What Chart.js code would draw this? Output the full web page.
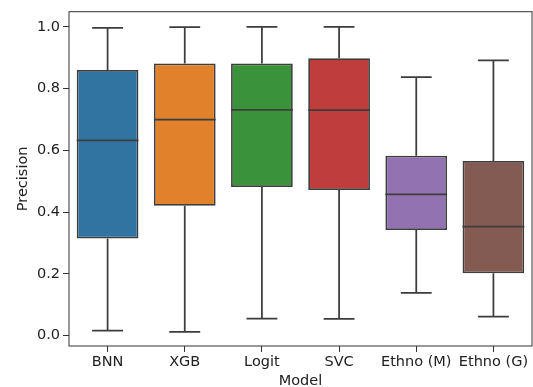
<!DOCTYPE html>
<html>
<head>
<meta charset="utf-8">
<script src="https://cdn.jsdelivr.net/npm/chart.js@4.4.1/dist/chart.umd.min.js"></script>
<style>
  html, body { margin: 0; padding: 0; background: #fff; }
  canvas { display: block; }
</style>
</head>
<body>
<canvas id="chart" width="533" height="387"></canvas>
<script>
// box plot stats
const models = ["BNN", "XGB", "Logit", "SVC", "Ethno (M)", "Ethno (G)"];
const whiskerLow = [0.016, 0.012, 0.055, 0.054, 0.138, 0.061];
const q1 = [0.314, 0.420, 0.481, 0.471, 0.342, 0.202];
const median = [0.632, 0.699, 0.731, 0.730, 0.457, 0.353];
const q3 = [0.860, 0.881, 0.881, 0.898, 0.582, 0.565];
const whiskerHigh = [0.997, 0.999, 1.000, 1.000, 0.837, 0.891];
const boxColors = ["#3274a1", "#e1812c", "#3a923a", "#c03d3e", "#9372b2", "#845b53"];
const yTicks = [0.0, 0.2, 0.4, 0.6, 0.8, 1.0];

const lineColor = "#3d3d3d";
const lineW = 1.75;
const textColor = "#222";
const fontFamily = "'DejaVu Sans', sans-serif";

// whiskers + caps under the boxes, medians on top
const boxPlotLines = {
    id: "boxPlotLines",
    beforeDatasetsDraw(chart) {
        const ctx = chart.ctx;
        const y = chart.scales.y;
        const bars = chart.getDatasetMeta(0).data;
        ctx.save();
        ctx.strokeStyle = lineColor;
        ctx.lineWidth = lineW;
        bars.forEach((bar, i) => {
            const half = bar.width / 4;
            const lo = y.getPixelForValue(whiskerLow[i]);
            const hi = y.getPixelForValue(whiskerHigh[i]);
            ctx.beginPath();
            ctx.moveTo(bar.x, lo);
            ctx.lineTo(bar.x, y.getPixelForValue(q1[i]));
            ctx.moveTo(bar.x, hi);
            ctx.lineTo(bar.x, y.getPixelForValue(q3[i]));
            ctx.moveTo(bar.x - half, lo);
            ctx.lineTo(bar.x + half, lo);
            ctx.moveTo(bar.x - half, hi);
            ctx.lineTo(bar.x + half, hi);
            ctx.stroke();
        });
        ctx.restore();
    },
    afterDatasetsDraw(chart) {
        const ctx = chart.ctx;
        const y = chart.scales.y;
        const bars = chart.getDatasetMeta(0).data;
        ctx.save();
        ctx.strokeStyle = lineColor;
        ctx.lineWidth = lineW;
        bars.forEach((bar, i) => {
            const m = y.getPixelForValue(median[i]);
            ctx.beginPath();
            ctx.moveTo(bar.x - bar.width / 2, m);
            ctx.lineTo(bar.x + bar.width / 2, m);
            ctx.stroke();
        });
        // axes frame
        const a = chart.chartArea;
        ctx.strokeStyle = "#333";
        ctx.lineWidth = 1;
        ctx.strokeRect(a.left, a.top, a.right - a.left, a.bottom - a.top);
        ctx.restore();
    }
};

new Chart(document.getElementById("chart"), {
    type: "bar",
    data: {
        labels: models,
        datasets: [{
            data: models.map((_, i) => [q1[i], q3[i]]),
            backgroundColor: boxColors,
            borderColor: lineColor,
            borderWidth: lineW,
            borderSkipped: false,
            categoryPercentage: 1.0,
            barPercentage: 0.8
        }]
    },
    options: {
        responsive: false,
        animation: false,
        layout: { padding: { left: 0, top: 10, right: 1, bottom: 0 } },
        plugins: {
            legend: { display: false },
            tooltip: { enabled: false }
        },
        scales: {
            x: {
                offset: true,
                grid: { display: true, drawOnChartArea: false, offset: false, tickLength: 6, color: "#333", lineWidth: 1 },
                border: { display: false },
                ticks: { color: textColor, padding: 2, font: { family: fontFamily, size: 14.5 } },
                title: { display: true, text: "Model", color: textColor, padding: { top: 0, bottom: -3 }, font: { family: fontFamily, size: 14.5 } },
                afterFit(scale) { scale.height = 41; }
            },
            y: {
                min: -0.034,
                max: 1.049,
                grid: { display: true, drawOnChartArea: false, tickLength: 6, color: "#333", lineWidth: 1 },
                border: { display: false },
                afterBuildTicks(scale) { scale.ticks = yTicks.map(v => ({ value: v })); },
                ticks: {
                    color: textColor,
                    padding: 3,
                    font: { family: fontFamily, size: 14.5 },
                    callback: v => Number(v).toFixed(1)
                },
                title: { display: true, text: "Precision", color: textColor, padding: { top: 15, bottom: 0 }, font: { family: fontFamily, size: 14.5 } },
                afterFit(scale) { scale.width = 69; }
            }
        }
    },
    plugins: [boxPlotLines]
});
</script>
</body>
</html>
